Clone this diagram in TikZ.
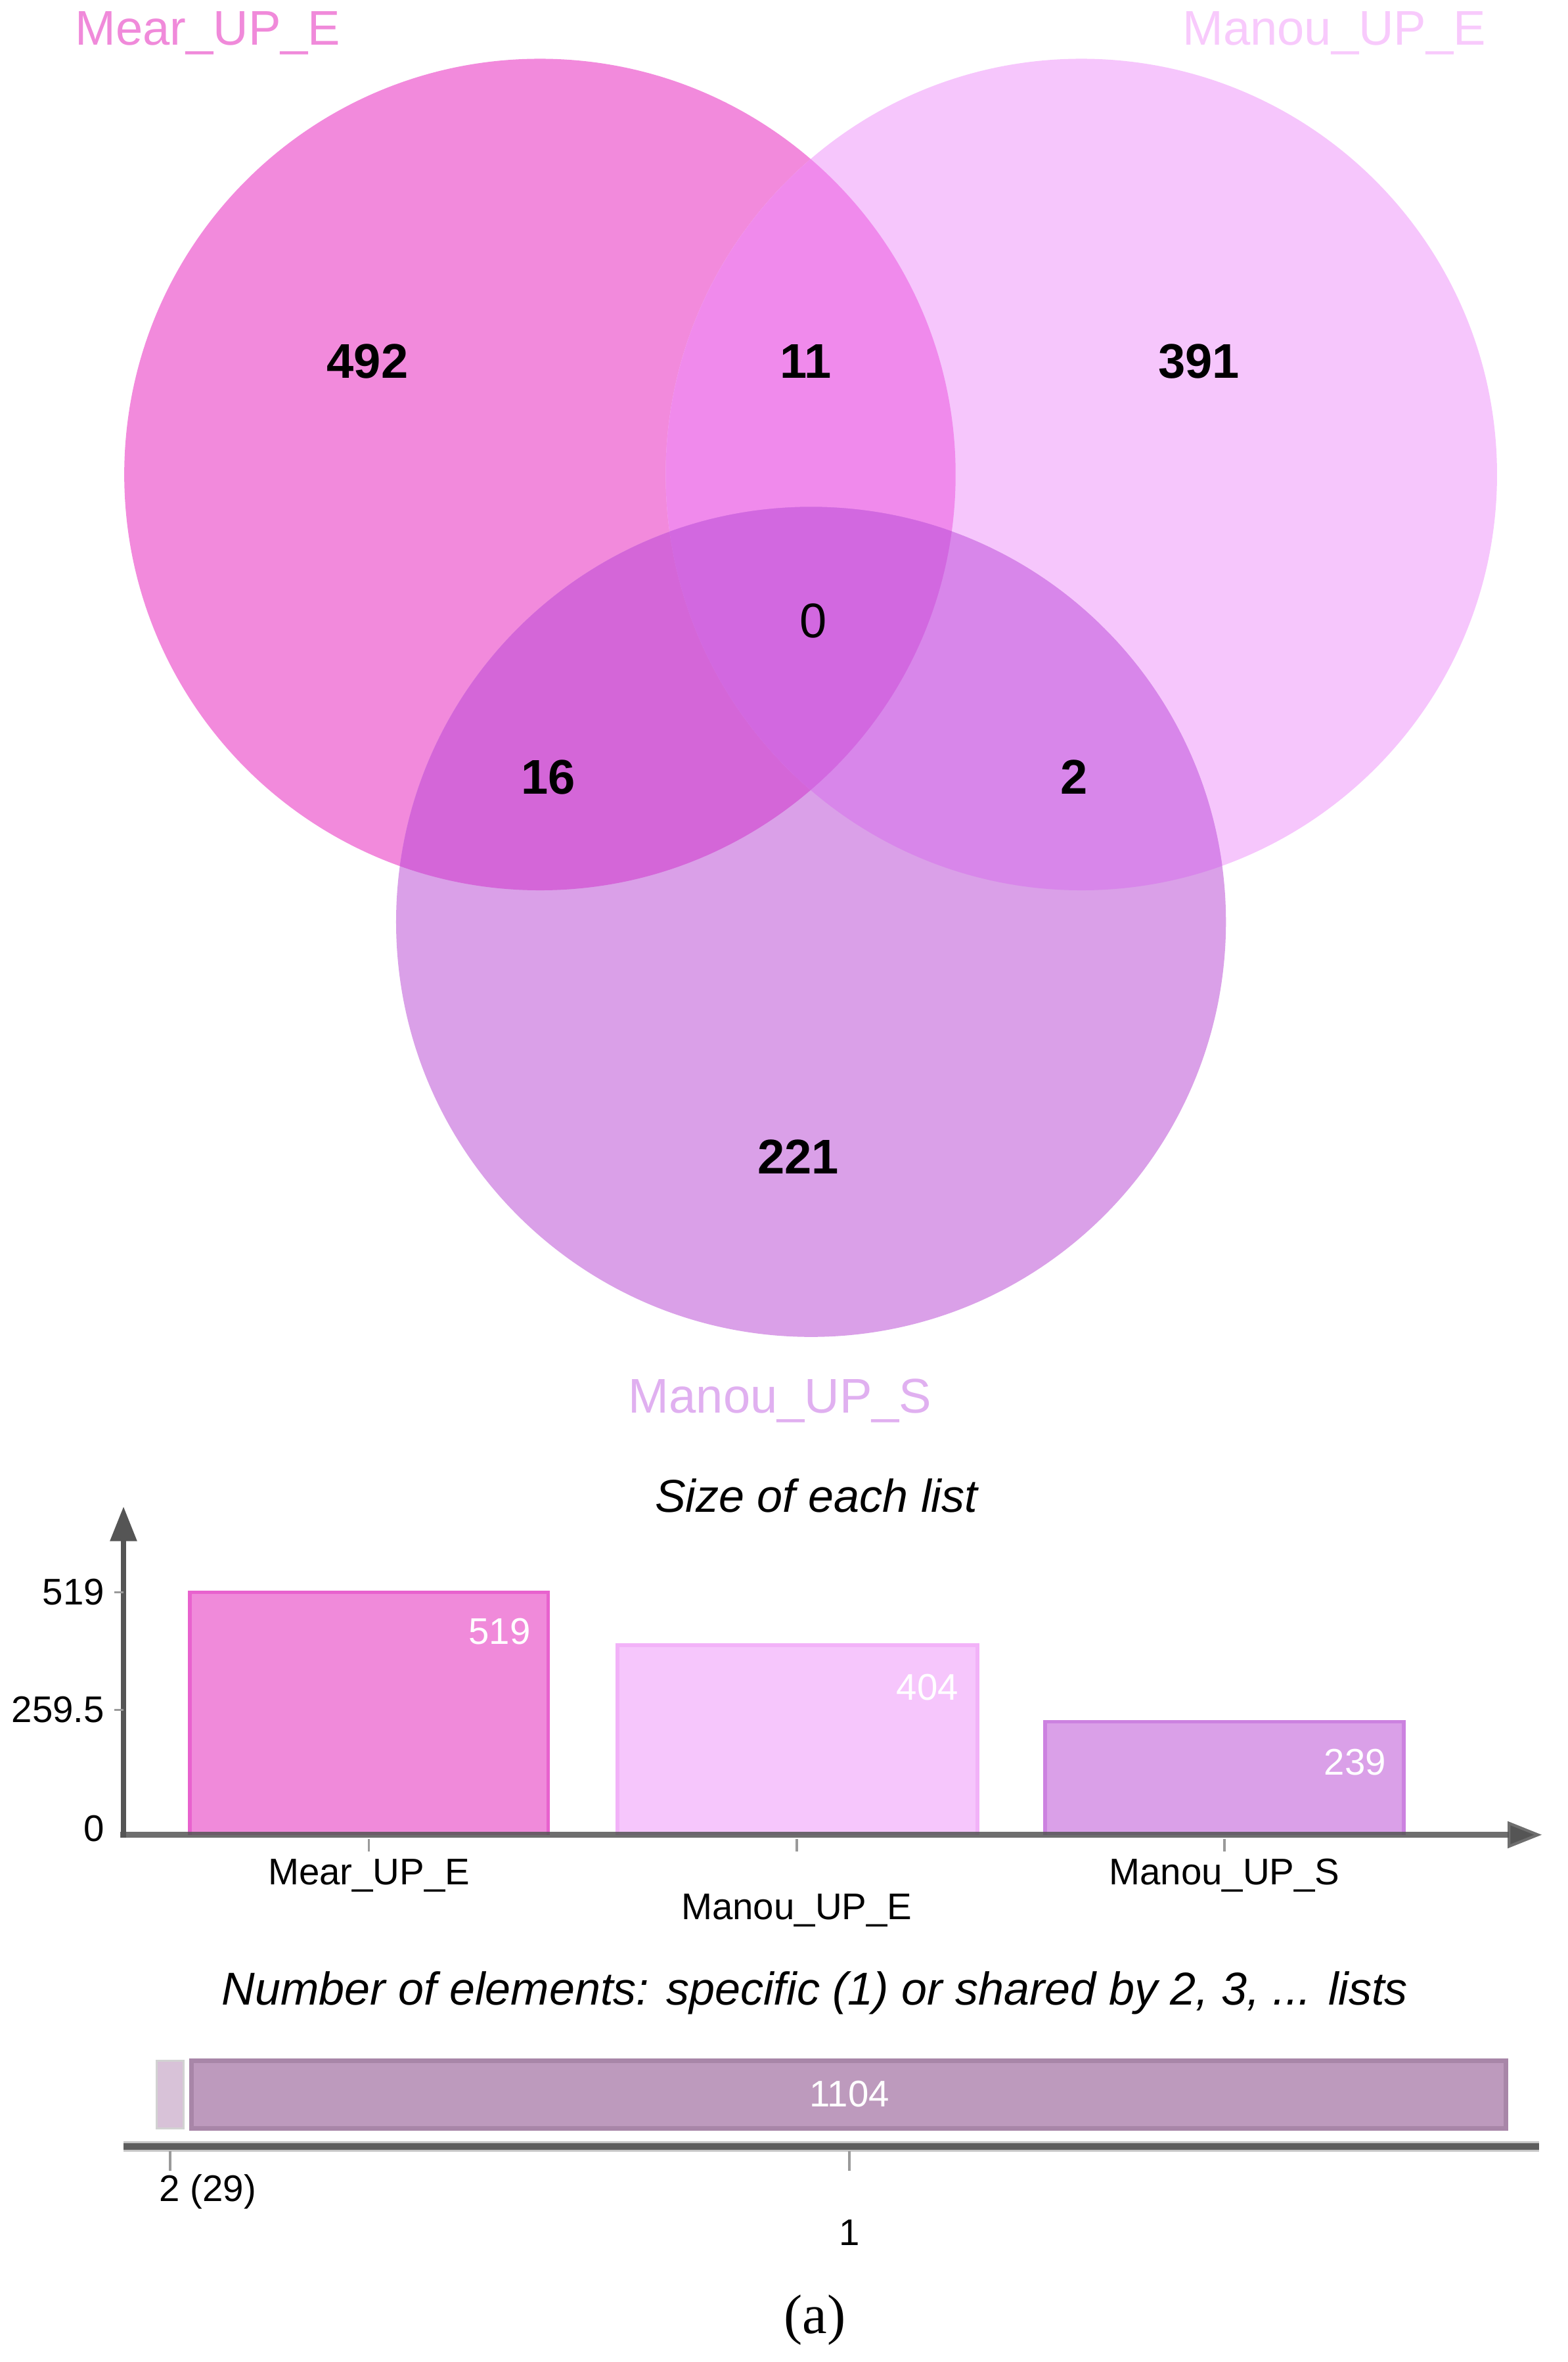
\documentclass[tikz,border=0pt]{standalone}
\usepackage{fontspec}
\setmainfont{Liberation Sans}
\newfontfamily\capserif{Liberation Serif}
\usetikzlibrary{arrows.meta}
\definecolor{aonly}{HTML}{F28ADC}
\definecolor{bonly}{HTML}{F6C6FC}
\definecolor{conly}{HTML}{DAA0E8}
\definecolor{ab}{HTML}{F08AEC}
\definecolor{ac}{HTML}{D466D8}
\definecolor{bc}{HTML}{D886EA}
\definecolor{abc}{HTML}{D268E0}
\definecolor{labA}{HTML}{F08ADA}
\definecolor{labB}{HTML}{F8CAFC}
\definecolor{labC}{HTML}{E0B0F0}
\definecolor{axisgray}{HTML}{555555}
\definecolor{tickgray}{HTML}{9A9A9A}
\definecolor{barA}{HTML}{F08ADA}
\definecolor{barAb}{HTML}{E862CE}
\definecolor{barB}{HTML}{F6C6FC}
\definecolor{barBb}{HTML}{F2B2F8}
\definecolor{barC}{HTML}{DAA0E8}
\definecolor{barCb}{HTML}{CC82E0}
\definecolor{ubar}{HTML}{BD9ABD}
\definecolor{ubarb}{HTML}{A886A8}
\definecolor{ubarsmall}{HTML}{D8C2D8}
\begin{document}
\begin{tikzpicture}[x=0.1mm,y=-0.1mm,
  setlabel/.style={inner sep=0pt,font=\fontsize{9.2}{11}\selectfont},
  count/.style={inner sep=0pt,font=\fontsize{9.2}{11}\selectfont\bfseries},
  countplain/.style={inner sep=0pt,font=\fontsize{9.2}{11}\selectfont},
  charttitle/.style={inner sep=0pt,font=\fontsize{8.7}{11}\selectfont\itshape},
  small/.style={inner sep=0pt,font=\fontsize{7}{9}\selectfont},
  smallwhite/.style={small,text=white},
  axisline/.style={draw=axisgray,line width=0.38mm,-{Triangle[length=2.3mm,width=1.7mm]}},
  ticks/.style={draw=tickgray,line width=0.15mm},
]
\useasboundingbox (0,0) rectangle (1041,1568);

% ---------- Venn diagram ----------
\def\circA{(358.5,315) circle[radius=276]}
\def\circB{(718,315) circle[radius=276]}
\def\circC{(538.5,612) circle[radius=275.5]}
\fill[aonly] \circA;
\fill[bonly] \circB;
\fill[conly] \circC;
\begin{scope}
  \clip \circA; \fill[ab] \circB;
\end{scope}
\begin{scope}
  \clip \circA; \fill[ac] \circC;
\end{scope}
\begin{scope}
  \clip \circB; \fill[bc] \circC;
\end{scope}
\begin{scope}
  \clip \circA; \clip \circB; \fill[abc] \circC;
\end{scope}

\node[setlabel,text=labA] (labA) at (138,22) {Mear\_UP\_E};
\node[setlabel,text=labB] (labB) at (886,22) {Manou\_UP\_E};
\node[setlabel,text=labC] (labC) at (518,930) {Manou\_UP\_S};

\node[count] (nA) at (244,240) {492};
\node[count] (nAB) at (535,240) {11};
\node[count] (nB) at (796,240) {391};
\node[countplain] (nABC) at (540,412) {0};
\node[count] (nAC) at (364,516) {16};
\node[count] (nBC) at (713,516) {2};
\node[count] (nC) at (530,768) {221};

% ---------- Size of each list ----------
\node[charttitle] (t1) at (542,993) {Size of each list};

\coordinate (orig) at (82,1220);
\coordinate (ytip) at (82,1000);
\coordinate (xtip) at (1024,1218);

\fill[barA] (126,1057) rectangle (364,1218);
\draw[barAb,line width=0.25mm] (126,1218) -- (126,1057) -- (364,1057) -- (364,1218);
\fill[barB] (410,1092) rectangle (649,1218);
\draw[barBb,line width=0.25mm] (410,1218) -- (410,1092) -- (649,1092) -- (649,1218);
\fill[barC] (694,1143) rectangle (932,1218);
\draw[barCb,line width=0.25mm] (694,1218) -- (694,1143) -- (932,1143) -- (932,1218);

\draw[axisline] (orig) -- (ytip);
\draw[axisline,draw opacity=0.85] (80,1218) -- (xtip);

\coordinate (y519) at (82,1057);
\coordinate (y259) at (82,1135);
\draw[ticks] (y519) -- ++(-6,0);
\draw[ticks] (y259) -- ++(-6,0);
\node[small,anchor=east] (l519) at (70,1057) {519};
\node[small,anchor=east] (l259) at (70,1135) {259.5};
\node[small,anchor=east] (l0) at (70,1214) {0};

\node[smallwhite,anchor=east] (v519) at (353,1083) {519};
\node[smallwhite,anchor=east] (v404) at (637,1120) {404};
\node[smallwhite,anchor=east] (v239) at (921,1170) {239};

\draw[ticks] (245,1221) -- (245,1229);
\draw[ticks] (529,1221) -- (529,1229);
\draw[ticks] (813,1221) -- (813,1229);
\node[small] (cA) at (245,1245) {Mear\_UP\_E};
\node[small] (cB) at (529,1268) {Manou\_UP\_E};
\node[small] (cC) at (813,1245) {Manou\_UP\_S};

% ---------- Number of elements ----------
\node[charttitle] (t2) at (541,1323) {Number of elements: specific (1) or shared by 2, 3, ... lists};

\fill[ubarsmall] (104,1368) rectangle (122,1413);
\draw[gray!35,line width=0.15mm] (104,1368) rectangle (122,1413);
\fill[ubar] (127,1368) rectangle (1000,1413);
\draw[ubarb,line width=0.3mm] (127,1368) rectangle (1000,1413);
\node[smallwhite] (n1104) at (564,1390) {1104};

\draw[draw=gray!45,line width=0.7mm] (82,1425) -- (1022,1425);
\draw[draw=axisgray!95,line width=0.45mm] (82,1425) -- (1022,1425);
\draw[ticks] (113,1428) -- (113,1441);
\draw[ticks] (564,1428) -- (564,1441);
\node[small] (k2) at (138,1455) {2 (29)};
\node[small] (k1) at (564,1482) {1};

\node[inner sep=0pt,font=\capserif\fontsize{10.5}{12}\selectfont] (cap) at (541,1540) {(a)};
\end{tikzpicture}
\end{document}
